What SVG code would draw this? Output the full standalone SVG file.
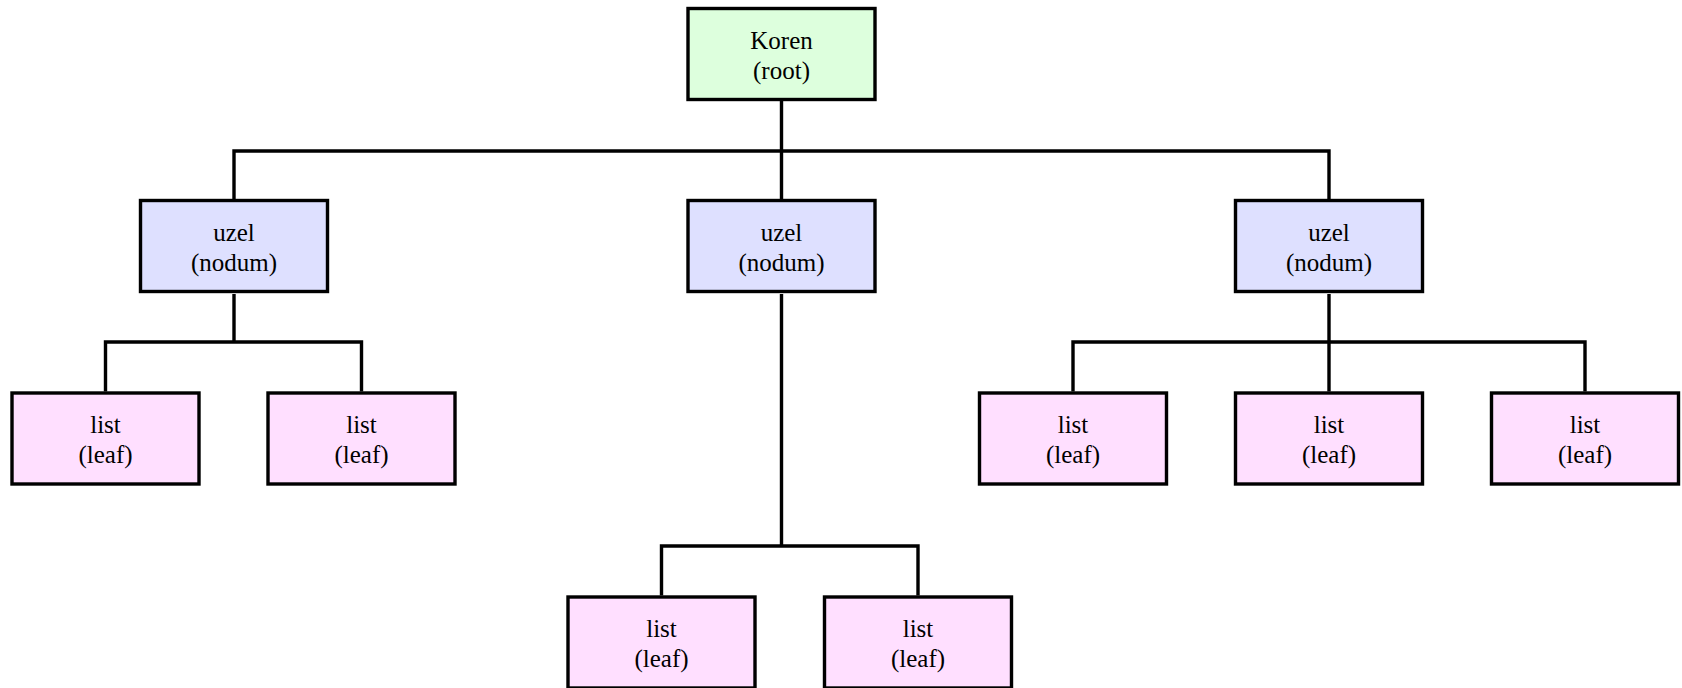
<svg xmlns="http://www.w3.org/2000/svg" width="1682" height="688" viewBox="0 0 1682 688">
<style>
rect{stroke:#000;stroke-width:3.4}
.root{fill:#ddffdd}
.node{fill:#dee0ff}
.leaf{fill:#ffdfff}
text{font-size:25px;fill:#000;text-anchor:middle}
#connectors path{fill:none;stroke:#000;stroke-width:3.4}
</style>
<rect width="1682" height="688" fill="#fff" style="stroke:none"/>
<g id="connectors">
<path d="M781.5,101 V199 M234,199 V151 H1329 V199"/>
<path d="M234,294 V342 M105.5,391.5 V342 H361.5 V391.5"/>
<path d="M781.5,294 V546 M661.5,595.5 V546 H918 V595.5"/>
<path d="M1329,294 V391.5 M1073,391.5 V342 H1585 V391.5"/>
</g>
<g font-family="'Liberation Serif', 'Times New Roman', 'DejaVu Serif', serif">
<g id="root"><rect class="root" x="688" y="8.5" width="187" height="91"/><text x="781.5" y="49">Koren</text><text x="781.5" y="79">(root)</text></g>
<g id="node1"><rect class="node" x="140.5" y="200.5" width="187" height="91"/><text x="234" y="241">uzel</text><text x="234" y="271">(nodum)</text></g>
<g id="node2"><rect class="node" x="688" y="200.5" width="187" height="91"/><text x="781.5" y="241">uzel</text><text x="781.5" y="271">(nodum)</text></g>
<g id="node3"><rect class="node" x="1235.5" y="200.5" width="187" height="91"/><text x="1329" y="241">uzel</text><text x="1329" y="271">(nodum)</text></g>
<g id="leaf1"><rect class="leaf" x="12" y="393" width="187" height="91"/><text x="105.5" y="433">list</text><text x="105.5" y="463">(leaf)</text></g>
<g id="leaf2"><rect class="leaf" x="268" y="393" width="187" height="91"/><text x="361.5" y="433">list</text><text x="361.5" y="463">(leaf)</text></g>
<g id="leaf3"><rect class="leaf" x="979.5" y="393" width="187" height="91"/><text x="1073" y="433">list</text><text x="1073" y="463">(leaf)</text></g>
<g id="leaf4"><rect class="leaf" x="1235.5" y="393" width="187" height="91"/><text x="1329" y="433">list</text><text x="1329" y="463">(leaf)</text></g>
<g id="leaf5"><rect class="leaf" x="1491.5" y="393" width="187" height="91"/><text x="1585" y="433">list</text><text x="1585" y="463">(leaf)</text></g>
<g id="leaf6"><rect class="leaf" x="568" y="597" width="187" height="91"/><text x="661.5" y="637">list</text><text x="661.5" y="667">(leaf)</text></g>
<g id="leaf7"><rect class="leaf" x="824.5" y="597" width="187" height="91"/><text x="918" y="637">list</text><text x="918" y="667">(leaf)</text></g>
</g>
</svg>
